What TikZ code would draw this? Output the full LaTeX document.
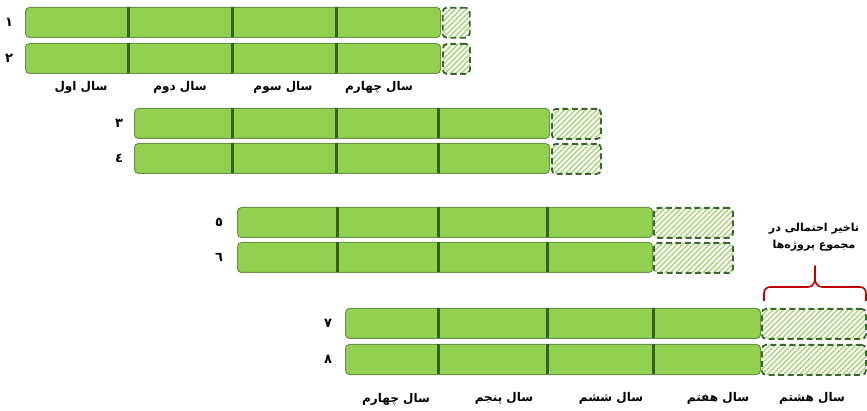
\documentclass[tikz,border=0pt]{standalone}
\usepackage{fontspec}
\usetikzlibrary{patterns.meta}
\TeXXeTstate=1
\newfontfamily\fa[Script=Arabic]{DejaVu Sans}
\definecolor{bargreen}{HTML}{92D050}
\definecolor{barline}{HTML}{6A9444}
\definecolor{divgreen}{HTML}{3A5D22}
\definecolor{hatchgreen}{HTML}{A6D47A}
\definecolor{dashgreen}{HTML}{3E6530}
\definecolor{bracered}{HTML}{C00000}
\tikzset{
  bar/.style={draw=barline, fill=bargreen, rounded corners=4pt, minimum width=415pt,
    minimum height=30pt, inner sep=0pt, anchor=north west, line width=1pt},
  delaybox/.style={draw=dashgreen, rounded corners=4pt, minimum height=30pt, inner sep=0pt,
    anchor=north west, line width=1.8pt, dash pattern=on 6pt off 3.5pt,
    pattern={Lines[angle=45,distance=3.8pt,line width=1.4pt]}, pattern color=hatchgreen},
  divline/.style={draw=divgreen, line width=3pt},
  rownum/.style={font=\fa\bfseries\fontsize{13}{15}\selectfont, inner sep=0pt},
  yearlbl/.style={font=\fa\bfseries\fontsize{12}{14}\selectfont, inner sep=0pt},
  notelbl/.style={font=\fa\bfseries\fontsize{11}{17}\selectfont, align=center, inner sep=0pt},
  bracestyle/.style={draw=bracered, line width=1.6pt, line join=round}
}
\begin{document}
\begin{tikzpicture}[x=1pt,y=-1pt]
\useasboundingbox (0,0) rectangle (867,411);
% row 1 & 2
\node[bar] (b1) at (25,7) {};
\node[bar] (b2) at (25,43) {};
\node[delaybox, minimum width=27pt] (d1) at (442,7) {};
\node[delaybox, minimum width=27pt] (d2) at (442,43) {};
\foreach \x in {128,232,336}{
  \draw[divline] (\x,7) -- (\x,37);
  \draw[divline] (\x,43) -- (\x,73);
}
% row 3 & 4
\node[bar] (b3) at (134,108) {};
\node[bar] (b4) at (134,143) {};
\node[delaybox, minimum width=49pt] (d3) at (551,108) {};
\node[delaybox, minimum width=49pt] (d4) at (551,143) {};
\foreach \x in {232,336,438}{
  \draw[divline] (\x,108) -- (\x,138);
  \draw[divline] (\x,143) -- (\x,173);
}
% row 5 & 6
\node[bar] (b5) at (237,207) {};
\node[bar] (b6) at (237,242) {};
\node[delaybox, minimum width=79pt] (d5) at (653,207) {};
\node[delaybox, minimum width=79pt] (d6) at (653,242) {};
\foreach \x in {337,438,547}{
  \draw[divline] (\x,207) -- (\x,237);
  \draw[divline] (\x,242) -- (\x,272);
}
% row 7 & 8
\node[bar] (b7) at (345,308) {};
\node[bar] (b8) at (345,344) {};
\node[delaybox, minimum width=104pt] (d7) at (761,308) {};
\node[delaybox, minimum width=104pt] (d8) at (761,344) {};
\foreach \x in {438,547,653}{
  \draw[divline] (\x,308) -- (\x,338);
  \draw[divline] (\x,344) -- (\x,374);
}
% row numbers
\node[rownum] (n1) at (9,22) {١};
\node[rownum] (n2) at (9,58) {٢};
\node[rownum] (n3) at (119,123) {٣};
\node[rownum] (n4) at (119,158) {٤};
\node[rownum] (n5) at (219,222) {٥};
\node[rownum] (n6) at (219,257) {٦};
\node[rownum] (n7) at (328,323) {٧};
\node[rownum] (n8) at (328,359) {٨};
% top year labels
\node[yearlbl] (y1) at (81,87) {\beginR سال اول\endR};
\node[yearlbl] (y2) at (180,87) {\beginR سال دوم\endR};
\node[yearlbl] (y3) at (283,87) {\beginR سال سوم\endR};
\node[yearlbl] (y4) at (379,87) {\beginR سال چهارم\endR};
% bottom year labels
\node[yearlbl] (z4) at (396,399) {\beginR سال چهارم\endR};
\node[yearlbl] (z5) at (504,398) {\beginR سال پنجم\endR};
\node[yearlbl] (z6) at (611,398) {\beginR سال ششم\endR};
\node[yearlbl] (z7) at (718,398) {\beginR سال هفتم\endR};
\node[yearlbl] (z8) at (812,398) {\beginR سال هشتم\endR};
% note and brace
\node[notelbl] (note) at (814,237) {\beginR تاخیر احتمالی در\endR\\\beginR مجموع پروژه‌ها\endR};
\coordinate (bl) at (764,301);
\coordinate (br) at (866,301);
\coordinate (tip) at (815,266);
\draw[bracestyle] (bl) -- (764,293) to[out=90,in=180] (770,287) -- (808,287)
  to[out=0,in=270] (815,279) -- (tip) -- (815,279) to[out=270,in=180] (822,287)
  -- (860,287) to[out=0,in=90] (866,293) -- (br);
\end{tikzpicture}
\end{document}
